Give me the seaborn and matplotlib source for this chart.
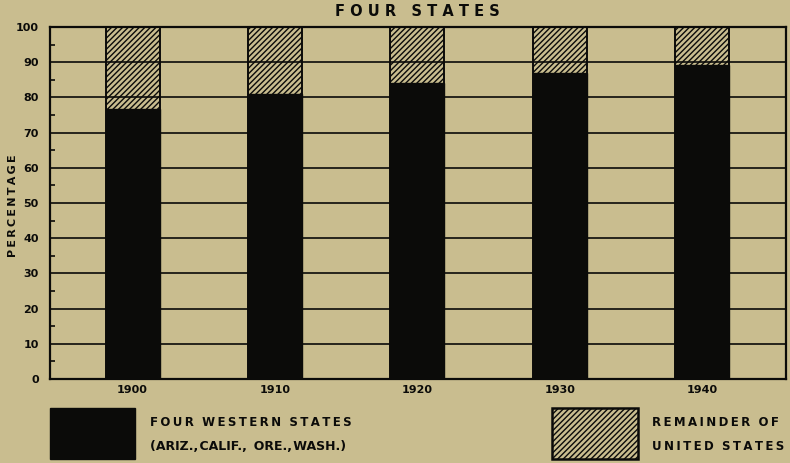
import matplotlib
matplotlib.use("Agg")
import matplotlib.pyplot as plt
from matplotlib.patches import Rectangle
from matplotlib.ticker import MultipleLocator
import seaborn as sns
import pandas as pd

# Share of production, percent
years = ["1900", "1910", "1920", "1930", "1940"]
western_states = [76.7, 81.0, 84.1, 87.0, 89.2]
remainder_us = [23.3, 19.0, 15.9, 13.0, 10.8]
y_ticks = [0, 10, 20, 30, 40, 50, 60, 70, 80, 90, 100]

BG = "#c9bd8f"
INK = "#0b0b09"
HATCH = "//////"

df = pd.DataFrame({
    "year": years,
    "western": western_states,
    "total": [w + r for w, r in zip(western_states, remainder_us)],
})

sns.set_theme(style="white")
plt.rcParams["font.family"] = ["DejaVu Sans"]
plt.rcParams["hatch.linewidth"] = 1.0
plt.rcParams["hatch.color"] = INK

fig = plt.figure(figsize=(7.9, 4.63), dpi=100, facecolor=BG)
ax = fig.add_axes([50 / 790, 1 - 379 / 463, 736 / 790, 352 / 463])
ax.set_facecolor(BG)

# full stack (remainder on top) drawn first, hatched
sns.barplot(data=df, x="year", y="total", ax=ax, color=BG, saturation=1,
            width=0.38, edgecolor=INK, linewidth=1.4, hatch=HATCH, zorder=1)

# horizontal rules, visible through the hatched part
for t in y_ticks[1:-1]:
    ax.axhline(t, color=INK, lw=1.2, zorder=2)

# western states portion on top
sns.barplot(data=df, x="year", y="western", ax=ax, color=INK, saturation=1,
            width=0.38, edgecolor=INK, linewidth=1.0, zorder=3)

ax.set_xlim(-0.58, 4.59)
ax.set_ylim(0, 100)
ax.set_yticks(y_ticks)
ax.set_yticklabels([str(t) for t in y_ticks], fontsize=8, fontweight="bold", color=INK)
ax.yaxis.set_minor_locator(MultipleLocator(5))
ax.tick_params(axis="y", which="major", length=0, pad=8)
ax.tick_params(axis="y", which="minor", direction="in", length=3.5, width=1.2, color=INK, left=True)
ax.tick_params(axis="x", length=0, pad=4, labelsize=8, labelcolor=INK)
for lab in ax.get_xticklabels():
    lab.set_fontweight("bold")
ax.set_xlabel("")
ax.set_ylabel("")
for s in ax.spines.values():
    s.set_visible(True)
    s.set_color(INK)
    s.set_linewidth(1.6)

fig.text(417 / 790, 1 - 12 / 463, "F O U R   S T A T E S", ha="center", va="center",
         fontsize=10.5, fontweight="bold", color=INK)
fig.text(13 / 790, 1 - 206 / 463, "P\u2009E\u2009R\u2009C\u2009E\u2009N\u2009T\u2009A\u2009G\u2009E",
         rotation=90, ha="center", va="center", fontsize=8, fontweight="bold", color=INK)

# legend keys
fig.patches.append(Rectangle((50 / 790, 1 - 459 / 463), 85 / 790, 51 / 463,
                             transform=fig.transFigure, facecolor=INK, edgecolor=INK,
                             lw=1, figure=fig))
fig.patches.append(Rectangle((552 / 790, 1 - 459 / 463), 86 / 790, 51 / 463,
                             transform=fig.transFigure, facecolor=BG, edgecolor=INK,
                             lw=1.8, hatch=HATCH, figure=fig))

def spaced(s):
    return "  ".join("\u2009".join(w) for w in s.split(" "))

fig.text(150 / 790, 1 - 423 / 463, spaced("FOUR WESTERN STATES"), ha="left", va="center",
         fontsize=8.5, fontweight="bold", color=INK)
fig.text(150 / 790, 1 - 446 / 463, "(ARIZ.,\u200aCALIF.,\u2009 ORE.,\u200aWASH.)", ha="left",
         va="center", fontsize=9, fontweight="bold", color=INK)
fig.text(652 / 790, 1 - 423 / 463, spaced("REMAINDER OF"), ha="left", va="center",
         fontsize=8.5, fontweight="bold", color=INK)
fig.text(652 / 790, 1 - 446 / 463, spaced("UNITED STATES"), ha="left", va="center",
         fontsize=8.5, fontweight="bold", color=INK)

fig.savefig("out.png", dpi=100, facecolor=BG)
